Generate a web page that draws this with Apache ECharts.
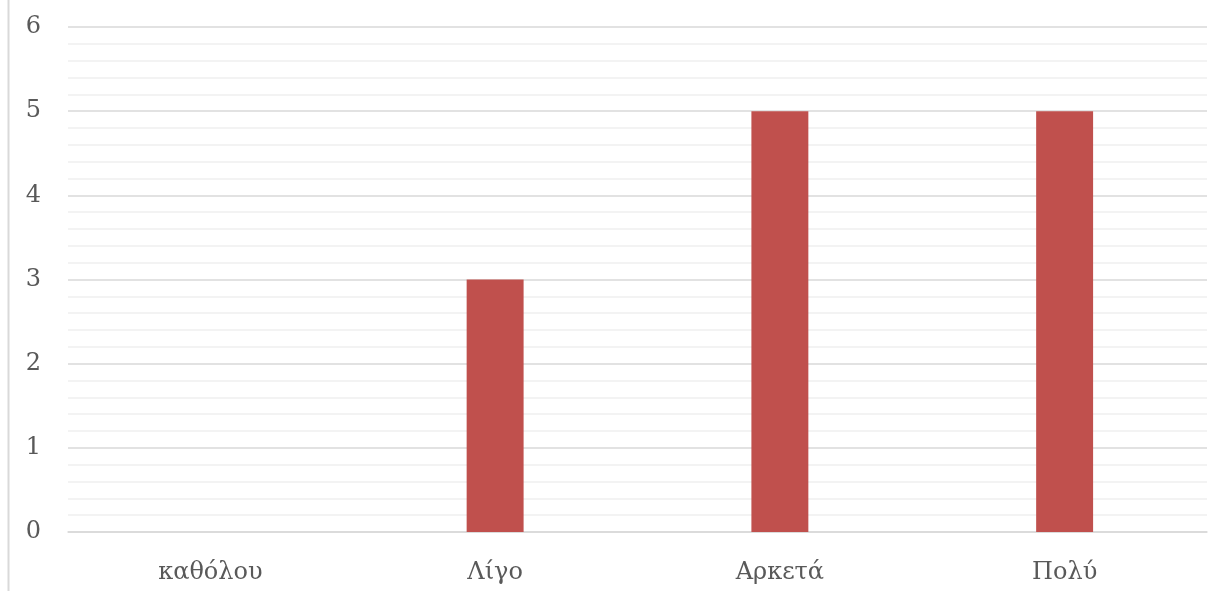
<!DOCTYPE html>
<html>
<head>
<meta charset="utf-8">
<script src="https://cdn.jsdelivr.net/npm/echarts@6/dist/echarts.min.js"></script>
<style>html,body{margin:0;padding:0;background:#fff;}#c{width:1223px;height:591px;}</style>
</head>
<body>
<div id="c"></div>
<script>
const categories = ['καθόλου', 'Λίγο', 'Αρκετά', 'Πολύ'];
const values = [0, 3, 5, 5];
const yTicks = [0, 1, 2, 3, 4, 5, 6];

const chart = echarts.init(document.getElementById('c'), null, {renderer: 'canvas'});
const font = '"DejaVu Serif", "Liberation Serif", serif';
chart.setOption({
  animation: false,
  backgroundColor: '#ffffff',
  grid: {left: 68, right: 16, top: 27, bottom: 59, containLabel: false},
  graphic: [{
    type: 'line', shape: {x1: 8.5, y1: 0, x2: 8.5, y2: 591},
    style: {stroke: '#d9d9d9', lineWidth: 2}
  }],
  xAxis: {
    type: 'category', data: categories,
    axisLine: {show: true, lineStyle: {color: '#d9d9d9', width: 1.5}},
    axisTick: {show: false},
    axisLabel: {color: '#595959', fontFamily: font, fontSize: 24, margin: 29}
  },
  yAxis: {
    type: 'value', min: yTicks[0], max: yTicks[yTicks.length - 1], interval: 1,
    axisLine: {show: false}, axisTick: {show: false},
    axisLabel: {color: '#595959', fontFamily: font, fontSize: 24, margin: 27, align: 'right',
      formatter: v => yTicks.includes(v) ? String(v) : ''},
    splitLine: {lineStyle: {color: '#d9d9d9', width: 1.5}},
    minorTick: {show: false, splitNumber: 5},
    minorSplitLine: {show: true, lineStyle: {color: '#f0f0f0', width: 1.5}}
  },
  series: [{
    type: 'bar', data: values, barWidth: '20%',
    itemStyle: {color: '#C0504D'}
  }]
});
</script>
</body>
</html>
